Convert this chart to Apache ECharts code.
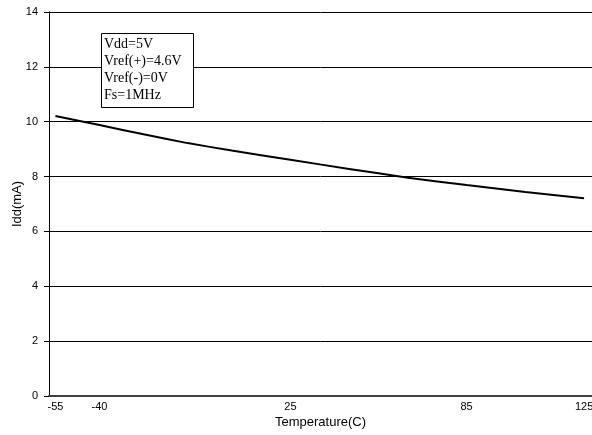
<!DOCTYPE html>
<html>
<head>
<meta charset="utf-8">
<script src="https://cdn.jsdelivr.net/npm/echarts@6/dist/echarts.min.js"></script>
<style>
html,body{margin:0;padding:0;background:#fff;}
#c{width:592px;height:435px;}
</style>
</head>
<body>
<div id="c"></div>
<script>
var temps = [-55, -40, -25, -10, 5, 25, 45, 65, 85, 105, 125];
var idd = [10.21, 9.88, 9.54, 9.22, 8.95, 8.61, 8.28, 7.96, 7.69, 7.44, 7.21];
var xTickLabels = [-55, -40, 25, 85, 125];
var yTicks = [0, 2, 4, 6, 8, 10, 12, 14];
var noteLines = ['Vdd=5V', 'Vref(+)=4.6V', 'Vref(-)=0V', 'Fs=1MHz'];

var chart = echarts.init(document.getElementById('c'), null, {renderer: 'canvas'});
var data = temps.map(function (t, i) { return [t, idd[i]]; });
chart.setOption({
  animation: false,
  backgroundColor: '#fff',
  grid: {left: 49, right: 0, top: 12, bottom: 39, containLabel: false, outerBoundsMode: 'none'},
  title: {
    text: noteLines.join('\n'),
    left: 101, top: 33,
    padding: [3, 12, 4, 3],
    backgroundColor: '#fff',
    borderColor: '#000',
    borderWidth: 1,
    textStyle: {
      fontFamily: 'Liberation Serif', fontSize: 14, fontWeight: 'normal',
      color: '#000', lineHeight: 17
    }
  },
  xAxis: {
    type: 'value',
    min: -57.2, max: 127.7,
    name: 'Temperature(C)',
    nameLocation: 'middle',
    nameGap: 20,
    nameMoveOverlap: false,
    nameTextStyle: {fontFamily: 'Liberation Sans', fontSize: 13, color: '#000'},
    axisLine: {onZero: false, lineStyle: {color: '#404040', width: 2}},
    axisTick: {show: false},
    splitLine: {show: false},
    axisLabel: {
      customValues: xTickLabels,
      fontFamily: 'Liberation Sans', fontSize: 11, color: '#000', margin: 5
    }
  },
  yAxis: {
    type: 'value',
    min: 0, max: 14, interval: 2,
    name: 'Idd(mA)',
    nameLocation: 'middle',
    nameGap: 25,
    nameMoveOverlap: false,
    nameTextStyle: {fontFamily: 'Liberation Sans', fontSize: 13, color: '#000'},
    axisLine: {show: true, onZero: false, lineStyle: {color: '#000', width: 1}},
    axisTick: {show: true, length: 5, lineStyle: {color: '#000'}},
    splitLine: {show: true, lineStyle: {color: '#000', width: 1}},
    axisLabel: {
      fontFamily: 'Liberation Sans', fontSize: 11, color: '#000', margin: 11
    }
  },
  series: [{
    type: 'line',
    data: data,
    showSymbol: false,
    smooth: 0.2,
    lineStyle: {color: '#000', width: 2},
    z: 3
  }]
});
</script>
</body>
</html>
